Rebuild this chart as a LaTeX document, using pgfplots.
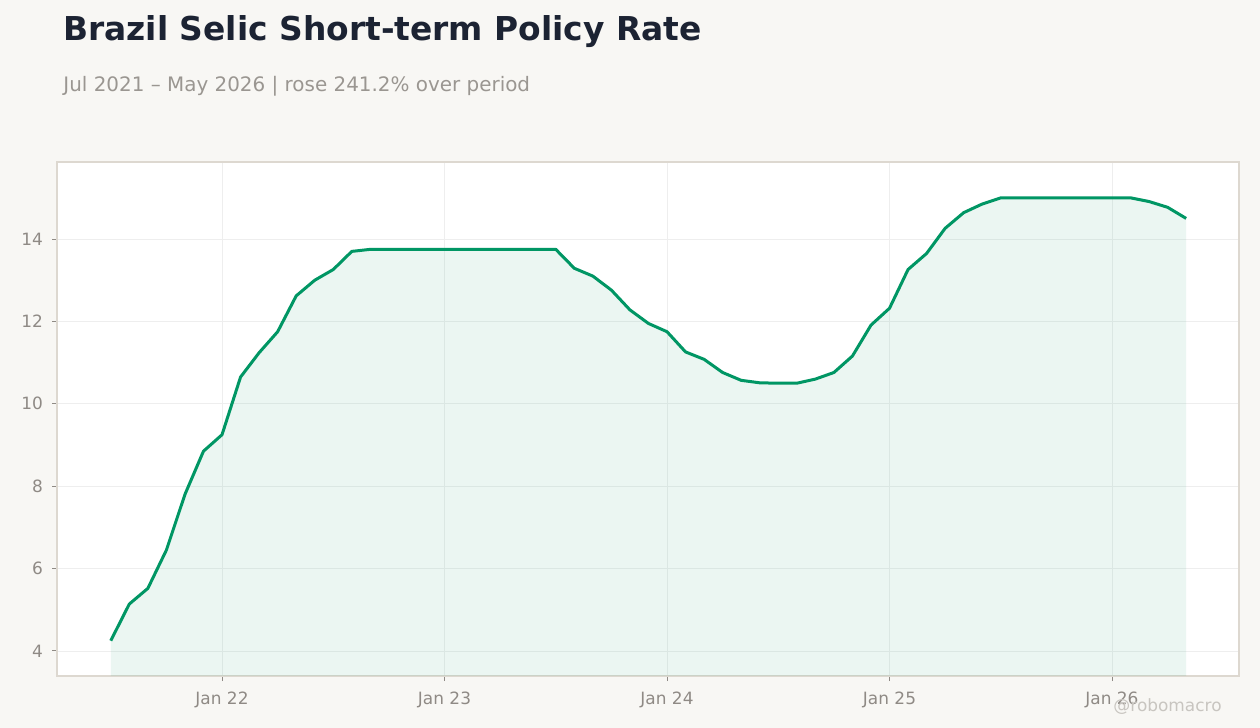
\documentclass[border=0pt]{standalone}
\usepackage{pgfplots}
\pgfplotsset{compat=1.18}
\usepackage{pgfplotstable}
\usepackage{fontspec}
\setmainfont{DejaVu Sans}
\definecolor{bgc}{HTML}{F8F7F4}
\definecolor{titlec}{HTML}{1C2333}
\definecolor{subc}{HTML}{9A9691}
\definecolor{tickc}{HTML}{8F8A85}
\definecolor{framec}{HTML}{DDD8D0}
\definecolor{gridc}{HTML}{EEEEEE}
\definecolor{linec}{HTML}{009664}
\definecolor{wmc}{HTML}{C8C5C0}
\pgfplotstableread{
m v
0 4.25
1 5.14
2 5.52
3 6.45
4 7.80
5 8.85
6 9.25
7 10.65
8 11.24
9 11.75
10 12.62
11 13.00
12 13.26
13 13.70
14 13.75
15 13.75
16 13.75
17 13.75
18 13.75
19 13.75
20 13.75
21 13.75
22 13.75
23 13.75
24 13.75
25 13.29
26 13.10
27 12.76
28 12.28
29 11.95
30 11.75
31 11.26
32 11.08
33 10.76
34 10.57
35 10.51
36 10.50
37 10.50
38 10.60
39 10.76
40 11.16
41 11.91
42 12.32
43 13.26
44 13.65
45 14.26
46 14.64
47 14.85
48 15.00
49 15.00
50 15.00
51 15.00
52 15.00
53 15.00
54 15.00
55 15.00
56 14.91
57 14.77
58 14.50
}\selic
\begin{document}
\begin{tikzpicture}
\fill[bgc] (0bp,0bp) rectangle (630bp,364bp);
\useasboundingbox (0bp,0bp) rectangle (630bp,364bp);
\node[anchor=base west, inner sep=0pt, text=titlec, font=\fontsize{16.5}{18}\selectfont\bfseries] at (31.5bp,343.5bp) {Brazil Selic Short-term Policy Rate};
\node[anchor=base west, inner sep=0pt, text=subc, font=\fontsize{10}{12}\selectfont] at (31.5bp,318bp) {Jul 2021 – May 2026 | rose 241.2\% over period};
\begin{axis}[
  at={(28.5bp,26bp)}, anchor=south west,
  scale only axis, width=591bp, height=257bp,
  xmin=-2.90, xmax=60.85, ymin=3.393, ymax=15.87,
  axis background/.style={fill=white},
  axis line style={framec, line width=0.6bp},
  xtick={6,18,30,42,54},
  xticklabels={Jan 22,Jan 23,Jan 24,Jan 25,Jan 26},
  ytick={4,6,8,10,12,14},
  xtick pos=left, ytick pos=left,
  tick align=outside,
  major tick length=2.5bp,
  tick style={tickc, line width=0.5bp},
  grid=major,
  major grid style={gridc, line width=0.4bp},
  tick label style={text=tickc, font=\fontsize{8.5}{10}\selectfont},
  /pgf/number format/assume math mode=true,
  xticklabel style={yshift=-2bp},
  yticklabel style={xshift=-1bp},
]
\addplot[draw=none, fill=linec, fill opacity=0.08] table[x=m,y=v] {\selic} \closedcycle;
\addplot[linec, line width=1.5bp, line join=round] table[x=m,y=v] {\selic};
\end{axis}
\node[anchor=base east, inner sep=0pt, text=wmc, font=\fontsize{8.5}{10}\selectfont] at (611bp,8.5bp) {@robomacro};
\end{tikzpicture}
\end{document}
